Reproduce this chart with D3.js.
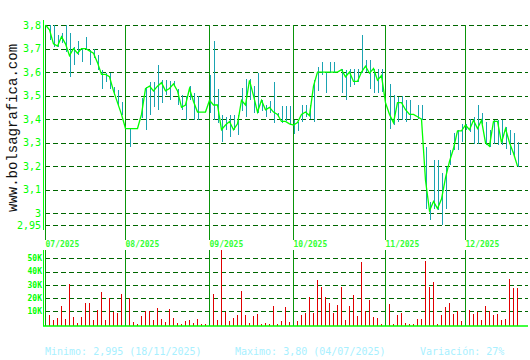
<!DOCTYPE html>
<html>
<head>
<meta charset="utf-8">
<script src="https://cdn.jsdelivr.net/npm/d3@7"></script>
<style>
  html, body { margin: 0; padding: 0; background: #ffffff; }
  svg { display: block; }
</style>
</head>
<body>
<div id="chart"></div>
<script>
// Months shown on the x axis and the index of their first trading day
const monthLabels = ["07/2025", "08/2025", "09/2025", "10/2025", "11/2025", "12/2025"];
const monthStarts = [0, 20, 41, 62, 85, 105];

// Daily close, high and low (one value per trading session)
const closes = [
  3.80, 3.78, 3.72, 3.71, 3.75, 3.72, 3.67, 3.70, 3.68, 3.70,
  3.70, 3.69, 3.68, 3.64, 3.59, 3.59, 3.58, 3.52, 3.47, 3.42,
  3.36, 3.36, 3.36, 3.36, 3.42, 3.53, 3.54, 3.52, 3.54, 3.555,
  3.52, 3.53, 3.55, 3.52, 3.45, 3.46, 3.53, 3.475, 3.43, 3.43,
  3.43, 3.48, 3.46, 3.46, 3.355, 3.375, 3.39, 3.355, 3.38, 3.48,
  3.46, 3.565, 3.50, 3.43, 3.48, 3.44, 3.45, 3.43, 3.42, 3.39,
  3.39, 3.38, 3.375, 3.385, 3.42, 3.43, 3.415, 3.54, 3.60, 3.60,
  3.60, 3.60, 3.60, 3.60, 3.61, 3.58, 3.60, 3.56, 3.56, 3.60,
  3.625, 3.595, 3.615, 3.565, 3.585, 3.47, 3.42, 3.385, 3.47, 3.47,
  3.44, 3.42, 3.42, 3.41, 3.40, 3.14, 3.01, 3.05, 3.02, 3.06,
  3.15, 3.22, 3.275, 3.35, 3.35, 3.375, 3.355, 3.395, 3.36, 3.395,
  3.30, 3.285, 3.39, 3.39, 3.30, 3.36, 3.30, 3.255, 3.20
];
const highs = [
  3.80, 3.80, 3.80, 3.757, 3.765, 3.80, 3.765, 3.708, 3.732, 3.70,
  3.75, 3.694, 3.70, 3.672, 3.608, 3.594, 3.594, 3.538, 3.523, 3.474,
  3.36, 3.36, 3.36, 3.36, 3.488, 3.535, 3.559, 3.559, 3.63, 3.566,
  3.566, 3.564, 3.564, 3.53, 3.504, 3.497, 3.54, 3.511, 3.497, 3.43,
  3.43, 3.586, 3.73, 3.526, 3.419, 3.411, 3.419, 3.419, 3.419, 3.533,
  3.571, 3.571, 3.54, 3.594, 3.483, 3.461, 3.476, 3.557, 3.426, 3.454,
  3.457, 3.454, 3.398, 3.388, 3.459, 3.459, 3.462, 3.566, 3.622, 3.641,
  3.60, 3.641, 3.641, 3.60, 3.615, 3.608, 3.611, 3.615, 3.615, 3.757,
  3.651, 3.651, 3.615, 3.615, 3.615, 3.47, 3.551, 3.502, 3.495, 3.50,
  3.48, 3.483, 3.42, 3.459, 3.459, 3.282, 3.048, 3.225, 3.225, 3.169,
  3.197, 3.268, 3.339, 3.353, 3.381, 3.381, 3.402, 3.409, 3.459, 3.424,
  3.388, 3.353, 3.395, 3.395, 3.395, 3.367, 3.353, 3.339, 3.303
];
const lows = [
  3.80, 3.736, 3.708, 3.708, 3.722, 3.687, 3.58, 3.63, 3.672, 3.644,
  3.694, 3.63, 3.658, 3.608, 3.53, 3.559, 3.53, 3.502, 3.46, 3.417,
  3.36, 3.282, 3.36, 3.36, 3.403, 3.353, 3.417, 3.452, 3.438, 3.467,
  3.502, 3.483, 3.54, 3.46, 3.44, 3.397, 3.483, 3.397, 3.397, 3.43,
  3.43, 3.426, 3.397, 3.383, 3.304, 3.354, 3.326, 3.354, 3.333, 3.433,
  3.411, 3.483, 3.426, 3.426, 3.433, 3.411, 3.426, 3.383, 3.411, 3.383,
  3.39, 3.376, 3.338, 3.348, 3.388, 3.409, 3.40, 3.388, 3.519, 3.587,
  3.509, 3.594, 3.594, 3.60, 3.509, 3.48, 3.537, 3.544, 3.559, 3.595,
  3.601, 3.53, 3.509, 3.509, 3.516, 3.47, 3.36, 3.374, 3.388, 3.395,
  3.388, 3.398, 3.42, 3.402, 3.395, 3.02, 2.97, 3.02, 3.013, 2.949,
  3.02, 3.204, 3.268, 3.268, 3.303, 3.353, 3.346, 3.296, 3.296, 3.381,
  3.289, 3.282, 3.296, 3.289, 3.289, 3.275, 3.246, 3.239, 3.197
];

// Daily traded volume (shares)
const volumes = [
  5400, 6900, 3400, 4700, 14000, 3900, 30600, 5400, 900, 5400,
  16200, 16200, 3400, 10900, 24500, 3400, 19800, 9400, 8700, 23000,
  8000, 20000, 1900, 500, 6400, 10200, 10200, 3400, 12500, 4200,
  1900, 11700, 5000, 1100, 400, 2600, 3400, 1100, 4200, 300,
  300, 3000, 23000, 3400, 56000, 9400, 2600, 5000, 7300, 25300,
  7300, 1100, 6400, 7900, 400, 1100, 400, 14000, 400, 2600,
  13200, 1900, 2000, 2600, 7300, 8700, 20800, 8700, 33600, 28300,
  20800, 16200, 8700, 14700, 28300, 3400, 14000, 22300, 6400, 47200,
  10200, 18500, 5700, 5000, 300, 14000, 15500, 300, 7300, 8700,
  1100, 400, 400, 4200, 4200, 48000, 28300, 32000, 300, 7300,
  13200, 16200, 7900, 10200, 2600, 7000, 11000, 7900, 9400, 3400,
  14000, 10200, 7300, 7900, 3400, 4200, 34300, 27500, 27500
];

// Axis ticks
const priceTicks = [3.8, 3.7, 3.6, 3.5, 3.4, 3.3, 3.2, 3.1, 3.0, 2.95];
const volumeTicks = [10000, 20000, 30000, 40000, 50000];

// Footer texts
const footerTexts = [
  { text: "Minimo: 2,995 (18/11/2025)", x: 45 },
  { text: "Maximo: 3,80 (04/07/2025)", x: 235 },
  { text: "Variación: 27%", x: 420 }
];

const W = 530, H = 360;
const PLOT = { left: 45, right: 528, priceTop: 25, priceBottom: 225, volTop: 250, volBottom: 326 };

const COLORS = {
  bright: "#00ff00",
  label: "#33ff33",
  grid: "#006600",
  month: "#0a940a",
  range: "#1aa3b2",
  volume: "#e00000",
  footer: "#a8f0ff",
  brand: "#111111"
};

const MONO = "'DejaVu Sans Mono', 'Liberation Mono', monospace";
const fmtPrice = d => d3.format(".2~f")(d).replace(".", ",");

const svg = d3.select("#chart")
  .append("svg")
  .attr("width", W)
  .attr("height", H);

// Scales
const x = d3.scaleLinear()
  .domain([0, closes.length - 1])
  .range([PLOT.left, PLOT.left + 4 * (closes.length - 1)]);

const yPrice = d3.scaleLinear()
  .domain([2.95, 3.8])
  .range([PLOT.priceBottom, PLOT.priceTop]);

const yVol = d3.scaleLinear()
  .domain([0, 50000])
  .range([324.5, 258.3]);

// Watermark
svg.append("text")
  .attr("transform", "translate(17,212) rotate(-90)")
  .style("font-family", "'Liberation Mono', monospace")
  .style("font-size", "14px")
  .attr("fill", COLORS.brand)
  .text("www.bolsagrafica.com");

// Price grid lines
svg.append("g")
  .selectAll("line")
  .data(priceTicks)
  .join("line")
  .attr("x1", PLOT.left)
  .attr("x2", PLOT.right)
  .attr("y1", d => Math.round(yPrice(d)) + 0.5)
  .attr("y2", d => Math.round(yPrice(d)) + 0.5)
  .attr("stroke", COLORS.grid)
  .attr("stroke-width", 1)
  .attr("stroke-dasharray", "5,3");

// Price tick labels
svg.append("g")
  .selectAll("text")
  .data(priceTicks)
  .join("text")
  .attr("x", 41)
  .attr("y", d => yPrice(d))
  .attr("dy", "0.35em")
  .attr("text-anchor", "end")
  .style("font-family", MONO)
  .style("font-size", "10px")
  .attr("fill", COLORS.bright)
  .text(fmtPrice);

// Volume grid lines
svg.append("g")
  .selectAll("line")
  .data(volumeTicks)
  .join("line")
  .attr("x1", PLOT.left)
  .attr("x2", PLOT.right)
  .attr("y1", d => Math.round(yVol(d)) + 0.5)
  .attr("y2", d => Math.round(yVol(d)) + 0.5)
  .attr("stroke", COLORS.grid)
  .attr("stroke-width", 1)
  .attr("stroke-dasharray", "5,3");

// Volume tick labels
svg.append("g")
  .selectAll("text")
  .data(volumeTicks)
  .join("text")
  .attr("x", 42)
  .attr("y", d => yVol(d))
  .attr("dy", "0.35em")
  .attr("text-anchor", "end")
  .style("font-family", MONO)
  .style("font-size", "8px")
  .style("font-weight", "bold")
  .attr("fill", COLORS.bright)
  .text(d => (d / 1000) + "K");

// Daily high-low ranges
svg.append("g")
  .attr("shape-rendering", "crispEdges")
  .selectAll("line")
  .data(d3.range(closes.length).filter(i => highs[i] > lows[i]))
  .join("line")
  .attr("x1", i => x(i) + 1.5)
  .attr("x2", i => x(i) + 1.5)
  .attr("y1", i => yPrice(highs[i]))
  .attr("y2", i => yPrice(lows[i]))
  .attr("stroke", COLORS.range)
  .attr("stroke-width", 1);

// Volume bars
svg.append("g")
  .attr("shape-rendering", "crispEdges")
  .selectAll("line")
  .data(volumes)
  .join("line")
  .attr("x1", (d, i) => x(i) + 0.5)
  .attr("x2", (d, i) => x(i) + 0.5)
  .attr("y1", PLOT.volBottom)
  .attr("y2", d => Math.max(PLOT.volTop, yVol(d)))
  .attr("stroke", COLORS.volume)
  .attr("stroke-width", 1);

// Month separators and labels
const months = monthStarts.map((s, k) => ({ start: s, label: monthLabels[k] }));

svg.append("g")
  .attr("shape-rendering", "crispEdges")
  .selectAll("line")
  .data(months)
  .join("line")
  .attr("x1", d => x(d.start) + 0.5)
  .attr("x2", d => x(d.start) + 0.5)
  .attr("y1", PLOT.priceTop)
  .attr("y2", 240)
  .attr("stroke", COLORS.month)
  .attr("stroke-width", 1);

svg.append("g")
  .attr("shape-rendering", "crispEdges")
  .selectAll("line")
  .data(months)
  .join("line")
  .attr("x1", d => x(d.start) + 0.5)
  .attr("x2", d => x(d.start) + 0.5)
  .attr("y1", PLOT.volTop)
  .attr("y2", PLOT.volBottom)
  .attr("stroke", COLORS.month)
  .attr("stroke-width", 1);

svg.append("g")
  .selectAll("text")
  .data(months)
  .join("text")
  .attr("x", d => x(d.start) + 0.5)
  .attr("y", 247)
  .style("font-family", MONO)
  .style("font-size", "8px")
  .style("font-weight", "bold")
  .attr("fill", COLORS.label)
  .text(d => d.label);

// Close price line
const line = d3.line()
  .x((d, i) => x(i) + 0.5)
  .y(d => yPrice(d));

svg.append("path")
  .datum(closes)
  .attr("d", line)
  .attr("fill", "none")
  .attr("stroke", COLORS.bright)
  .attr("stroke-width", 1.3);

// Axis lines
svg.append("line")
  .attr("x1", 43.5).attr("x2", 43.5)
  .attr("y1", 20).attr("y2", 230)
  .attr("stroke", COLORS.bright)
  .attr("stroke-width", 1);

svg.append("line")
  .attr("x1", 43.5).attr("x2", 43.5)
  .attr("y1", PLOT.volTop).attr("y2", PLOT.volBottom)
  .attr("stroke", COLORS.bright)
  .attr("stroke-width", 1);

svg.append("line")
  .attr("x1", 43).attr("x2", PLOT.right)
  .attr("y1", PLOT.volBottom).attr("y2", PLOT.volBottom)
  .attr("stroke", COLORS.bright)
  .attr("stroke-width", 1.5);

// Footer
svg.append("g")
  .selectAll("text")
  .data(footerTexts)
  .join("text")
  .attr("x", d => d.x)
  .attr("y", 355)
  .style("font-family", MONO)
  .style("font-size", "10px")
  .attr("fill", COLORS.footer)
  .text(d => d.text);
</script>
</body>
</html>
